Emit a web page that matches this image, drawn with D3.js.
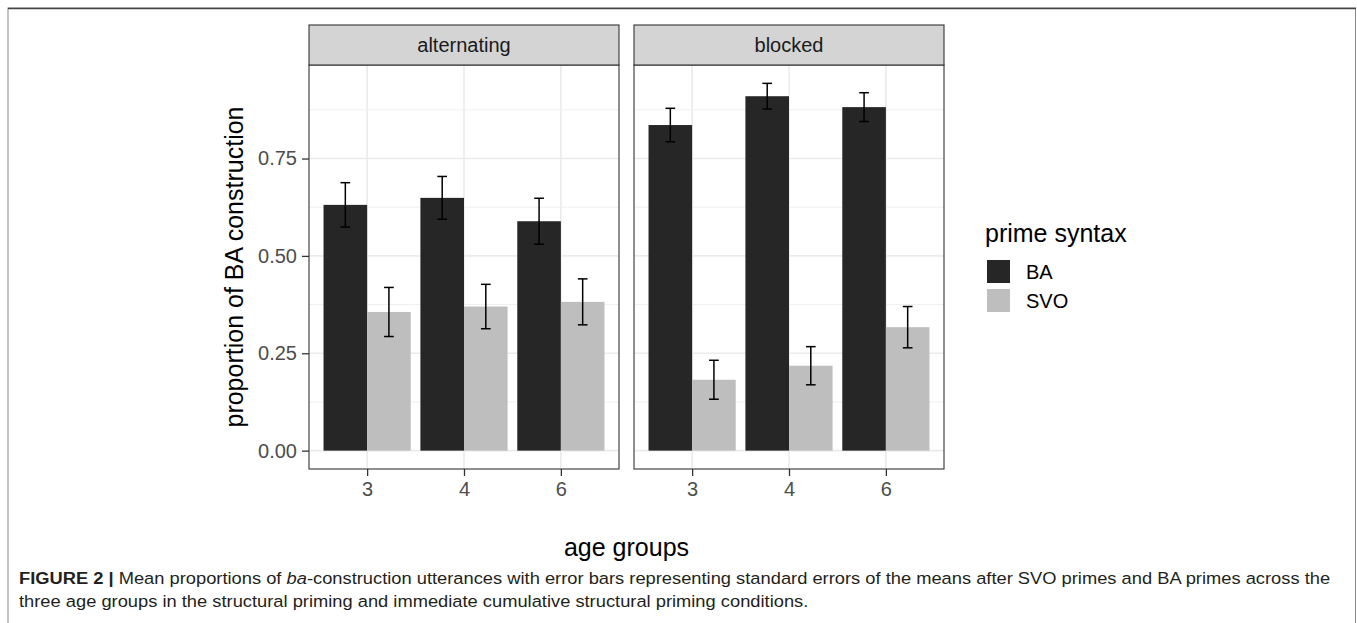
<!DOCTYPE html>
<html>
<head>
<meta charset="utf-8">
<script src="https://cdn.jsdelivr.net/npm/d3@7"></script>
<style>
  body { margin: 0; background: #fff; }
  text { font-family: "Liberation Sans", Arial, sans-serif; }
</style>
</head>
<body>
<svg id="fig"></svg>
<script>
var width = 1357, height = 623;

// data
var ages = ["3", "4", "6"];
var conditions = ["alternating", "blocked"];
var primes = ["BA", "SVO"];
var altBA = [0.631, 0.649, 0.589];
var altSVO = [0.356, 0.370, 0.382];
var blkBA = [0.836, 0.910, 0.882];
var blkSVO = [0.182, 0.218, 0.317];
var altBAse = [0.057, 0.055, 0.059];
var altSVOse = [0.063, 0.057, 0.059];
var blkBAse = [0.043, 0.033, 0.037];
var blkSVOse = [0.050, 0.049, 0.053];
var yTicks = [0, 0.25, 0.5, 0.75];
var yMinor = [0.125, 0.375, 0.625, 0.875];

var means = { alternating: { BA: altBA, SVO: altSVO }, blocked: { BA: blkBA, SVO: blkSVO } };
var ses = { alternating: { BA: altBAse, SVO: altSVOse }, blocked: { BA: blkBAse, SVO: blkSVOse } };
var fills = { BA: "#262626", SVO: "#bebebe" };

var svg = d3.select("#fig").attr("width", width).attr("height", height);

// outer frame
svg.append("rect").attr("x", 8).attr("y", 8).attr("width", 1347.5).attr("height", 640)
    .attr("fill", "none").attr("stroke", "#8a8a8a").attr("stroke-width", 1);
svg.append("line").attr("x1", 8).attr("x2", 1356).attr("y1", 8.5).attr("y2", 8.5)
    .attr("stroke", "#444").attr("stroke-width", 1.6);

var panelTop = 65, panelBottom = 469, stripTop = 25;
var panelLeft = { alternating: 309, blocked: 634 };
var panelW = 310;

// y range with ggplot-like 5% expansion
var rows = [];
conditions.forEach(function (c) {
  primes.forEach(function (p) {
    ages.forEach(function (a, i) {
      rows.push({ cond: c, prime: p, age: a, mean: means[c][p][i], se: ses[c][p][i] });
    });
  });
});
var yMax = d3.max(rows, function (d) { return d.mean + d.se; });
var pad = yMax * 0.05;
var y = d3.scaleLinear().domain([-pad, yMax + pad]).range([panelBottom, panelTop]);

conditions.forEach(function (c) {
  var x0 = panelLeft[c];
  var x = d3.scalePoint().domain(ages).range([x0, x0 + panelW]).padding(0.6);
  var step = x.step();
  var bw = step * 0.45;
  var g = svg.append("g");

  // grid
  g.selectAll(".minor").data(yMinor).enter().append("line")
      .attr("x1", x0).attr("x2", x0 + panelW)
      .attr("y1", function (d) { return y(d); }).attr("y2", function (d) { return y(d); })
      .attr("stroke", "#ebebeb").attr("stroke-width", 0.8);
  g.selectAll(".major").data(yTicks).enter().append("line")
      .attr("x1", x0).attr("x2", x0 + panelW)
      .attr("y1", function (d) { return y(d); }).attr("y2", function (d) { return y(d); })
      .attr("stroke", "#ebebeb").attr("stroke-width", 1.6);
  g.selectAll(".vmajor").data(ages).enter().append("line")
      .attr("x1", function (d) { return x(d); }).attr("x2", function (d) { return x(d); })
      .attr("y1", panelTop).attr("y2", panelBottom)
      .attr("stroke", "#ebebeb").attr("stroke-width", 1.6);

  // bars
  var data = rows.filter(function (d) { return d.cond === c; });
  g.selectAll(".bar").data(data).enter().append("rect")
      .attr("x", function (d) { return x(d.age) + (d.prime === "BA" ? -bw : 0); })
      .attr("width", bw)
      .attr("y", function (d) { return y(d.mean); })
      .attr("height", function (d) { return y(0) - y(d.mean); })
      .attr("fill", function (d) { return fills[d.prime]; });

  // error bars
  var cap = step * 0.1;
  data.forEach(function (d) {
    var cx = x(d.age) + (d.prime === "BA" ? -bw / 2 : bw / 2);
    var eb = g.append("g").attr("stroke", "#000").attr("stroke-width", 1.5);
    eb.append("line").attr("x1", cx).attr("x2", cx).attr("y1", y(d.mean - d.se)).attr("y2", y(d.mean + d.se));
    eb.append("line").attr("x1", cx - cap / 2).attr("x2", cx + cap / 2).attr("y1", y(d.mean - d.se)).attr("y2", y(d.mean - d.se));
    eb.append("line").attr("x1", cx - cap / 2).attr("x2", cx + cap / 2).attr("y1", y(d.mean + d.se)).attr("y2", y(d.mean + d.se));
  });

  // panel border
  g.append("rect").attr("x", x0).attr("y", panelTop).attr("width", panelW).attr("height", panelBottom - panelTop)
      .attr("fill", "none").attr("stroke", "#333").attr("stroke-width", 1.1);

  // strip
  g.append("rect").attr("x", x0).attr("y", stripTop).attr("width", panelW).attr("height", panelTop - stripTop)
      .attr("fill", "#d4d4d4").attr("stroke", "#333").attr("stroke-width", 1.1);
  g.append("text").attr("x", x0 + panelW / 2).attr("y", (stripTop + panelTop) / 2)
      .attr("text-anchor", "middle").attr("dominant-baseline", "central")
      .attr("font-size", 20).attr("fill", "#1a1a1a").text(c);

  // x axis
  var xa = g.append("g").attr("transform", "translate(0," + panelBottom + ")")
      .call(d3.axisBottom(x).tickSize(7).tickPadding(5));
  xa.select(".domain").remove();
  xa.selectAll(".tick line").attr("stroke", "#333").attr("stroke-width", 1.3);
  xa.selectAll(".tick text").attr("font-size", 20).attr("fill", "#4d4d4d")
      .attr("font-family", "Liberation Sans, Arial, sans-serif").attr("dy", "0.75em");
});

// y axis (left panel only)
var ya = svg.append("g").attr("transform", "translate(" + panelLeft.alternating + ",0)")
    .call(d3.axisLeft(y).tickValues(yTicks).tickFormat(d3.format(".2f")).tickSize(7).tickPadding(5));
ya.select(".domain").remove();
ya.selectAll(".tick line").attr("stroke", "#333").attr("stroke-width", 1.3);
ya.selectAll(".tick text").attr("font-size", 20).attr("fill", "#4d4d4d")
    .attr("font-family", "Liberation Sans, Arial, sans-serif");

// axis titles
svg.append("text").attr("transform", "translate(243," + (panelTop + panelBottom) / 2 + ") rotate(-90)")
    .attr("text-anchor", "middle").attr("font-size", 25).attr("fill", "#000")
    .text("proportion of BA construction");
svg.append("text").attr("x", (panelLeft.alternating + panelLeft.blocked + panelW) / 2).attr("y", 556)
    .attr("text-anchor", "middle").attr("font-size", 25).attr("fill", "#000")
    .text("age groups");

// legend
var lg = svg.append("g").attr("transform", "translate(985,0)");
lg.append("text").attr("x", 0).attr("y", 242).attr("font-size", 25).attr("fill", "#000").text("prime syntax");
primes.forEach(function (p, i) {
  lg.append("rect").attr("x", 2).attr("y", 260 + i * 29).attr("width", 23).attr("height", 23).attr("fill", fills[p]);
  lg.append("text").attr("x", 41).attr("y", 260 + i * 29 + 11.5).attr("dominant-baseline", "central")
      .attr("font-size", 20).attr("fill", "#000").text(p);
});

// caption
var capX = 19;
var line1 = svg.append("text").attr("x", capX).attr("y", 584).attr("font-size", 17).attr("fill", "#231f20");
line1.append("tspan").attr("font-weight", "bold").text("FIGURE 2 | ");
line1.append("tspan").text("Mean proportions of ");
line1.append("tspan").attr("font-style", "italic").text("ba");
line1.append("tspan").text("-construction utterances with error bars representing standard errors of the means after SVO primes and BA primes across the");
var line2 = svg.append("text").attr("x", capX).attr("y", 607).attr("font-size", 17).attr("fill", "#231f20")
    .text("three age groups in the structural priming and immediate cumulative structural priming conditions.");

// squeeze caption to the condensed width of the original
var w1 = line1.node().getComputedTextLength();
var sx = (1331 - capX) / w1;
[line1, line2].forEach(function (t) {
  t.attr("x", 0).attr("transform", "translate(" + capX + ",0) scale(" + sx + ",1)");
});
</script>
</body>
</html>
